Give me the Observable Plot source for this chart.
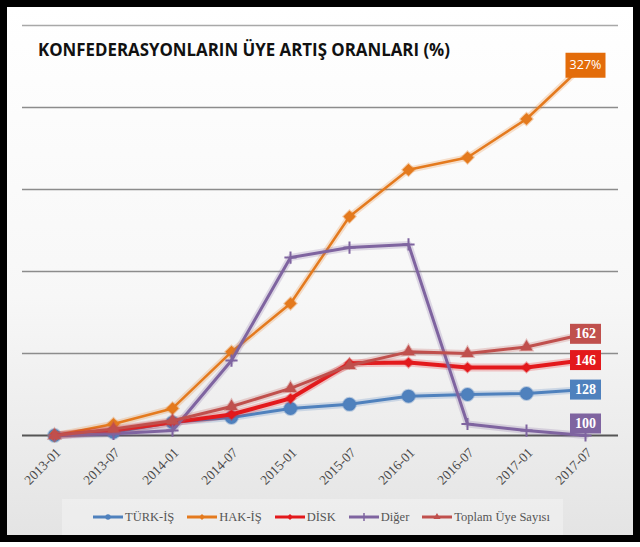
<!DOCTYPE html>
<html><head><meta charset="utf-8">
<script src="https://cdn.jsdelivr.net/npm/d3@7"></script>
<script src="https://cdn.jsdelivr.net/npm/@observablehq/plot@0.6"></script>
<style>
html,body{margin:0;padding:0;background:#fff;}
#wrap{position:relative;width:640px;height:547px;overflow:hidden;}
#frame{position:absolute;left:0;top:0;width:640px;height:542px;box-sizing:border-box;border:7px solid #000;background:linear-gradient(to bottom,#ffffff 0%,#f7f7f7 55%,#e4e4e4 100%);}
#chart{position:absolute;left:0;top:0;}
#chart svg{background:transparent;}
#title{position:absolute;left:38px;top:40px;font:bold 17px "Open Sans",sans-serif;line-height:20px;color:#111;white-space:nowrap;transform-origin:0 0;}
#legendbox{position:absolute;left:62px;top:499px;width:501px;height:36px;background:rgba(255,255,255,0.3);}
#legend{position:absolute;left:93px;top:506px;height:22px;display:flex;align-items:center;gap:13px;font-family:"Liberation Serif",serif;font-size:12.5px;color:#555;white-space:nowrap;}
#legend .it{display:flex;align-items:center;gap:2px;}
</style></head>
<body>
<div id="wrap">
  <div id="frame"></div>
  <div id="legendbox"></div>
  <div id="chart"></div>
  <div id="title"></div>
  <div id="legend"></div>
</div>
<script>
// ---- data ----
const dates = ["2013-01","2013-07","2014-01","2014-07","2015-01","2015-07","2016-01","2016-07","2017-01","2017-07"];
const turkIs = [100,102,108,111,116.5,119,124,125,125.6,128];
const hakIs  = [100,107,116.5,151,180.5,233.5,262,269.5,293,327];
const disk   = [100,103,108,112.8,122.6,144,144.5,141.5,141.5,146];
const diger  = [100,101,103,145.7,208.5,214.6,216.5,107,103,100];
const toplam = [100,104,109,117.7,128.7,142.7,151,150,154,162];
const seriesNames = ["TÜRK-İŞ","HAK-İŞ","DİSK","Diğer","Toplam Üye Sayısı"];
const endLabels = ["128","327%","146","100","162"];
const gridValues = [100,150,200,250,300,350];
const titleText = "KONFEDERASYONLARIN ÜYE ARTIŞ ORANLARI (%)";

// ---- styles ----
const colors = ["#4f81bd","#e47a1e","#e3191c","#7f64a0","#c0504d"];
const labelColors = ["#4f81bd","#e36c0a","#e3191c","#7f64a0","#c0504d"];
const widths = [3,2.5,4,3,3];
const symbols = ["circle","diamond2","diamond2","plus","triangle"];
const radii = [6.5,5.5,4.5,4,4.5];

const allValues = [turkIs,hakIs,disk,diger,toplam];
const rows = [];
seriesNames.forEach((s,i)=>dates.forEach((d,j)=>rows.push({series:s, idx:i, date:d, value:allValues[i][j]})));
const lastRows = seriesNames.map((s,i)=>({series:s, idx:i, date:dates[dates.length-1], value:allValues[i][dates.length-1], label:endLabels[i]}));

const rectSym = (w,h)=>({draw(ctx){ctx.rect(-w/2,-h/2,w,h);}});

const marks = [];
marks.push(Plot.ruleY(gridValues.filter(v=>v>100&&v<350),{stroke:"#8c8c8c",strokeWidth:1.5}));
marks.push(Plot.ruleY([350],{stroke:"#a8a8a8",strokeWidth:1.5}));
marks.push(Plot.ruleY([100],{stroke:"#555",strokeWidth:1.8}));

seriesNames.forEach((s,i)=>{
  const data = rows.filter(r=>r.idx===i);
  marks.push(Plot.line(data,{x:"date",y:"value",stroke:colors[i],strokeWidth:widths[i]+4,strokeOpacity:0.22}));
  marks.push(Plot.line(data,{x:"date",y:"value",stroke:colors[i],strokeWidth:widths[i]}));
  if (symbols[i]==="plus") {
    marks.push(Plot.dot(data,{x:"date",y:"value",symbol:"plus",r:radii[i],stroke:colors[i],strokeWidth:2}));
  } else {
    marks.push(Plot.dot(data,{x:"date",y:"value",symbol:symbols[i],r:radii[i],fill:colors[i],stroke:colors[i],strokeOpacity:0.35,strokeWidth:2}));
  }
});

// end labels
const lblNormal = lastRows.filter(r=>r.idx===0||r.idx===2||r.idx===4);
const lblBottom = lastRows.filter(r=>r.idx===3);
const lblTop = lastRows.filter(r=>r.idx===1);
marks.push(Plot.dot(lblNormal,{x:"date",y:"value",symbol:rectSym(31,20),fill:d=>labelColors[d.idx]}));
marks.push(Plot.text(lblNormal,{x:"date",y:"value",text:"label",fill:"#fff",fontWeight:"bold",fontSize:14,fontFamily:"Liberation Serif"}));
marks.push(Plot.dot(lblBottom,{x:"date",y:"value",dy:-12,symbol:rectSym(31,20),fill:d=>labelColors[d.idx]}));
marks.push(Plot.text(lblBottom,{x:"date",y:"value",dy:-12,text:"label",fill:"#fff",fontWeight:"bold",fontSize:14,fontFamily:"Liberation Serif"}));
marks.push(Plot.dot(lblTop,{x:"date",y:"value",dy:2,symbol:rectSym(40,25),fill:d=>labelColors[d.idx]}));
marks.push(Plot.text(lblTop,{x:"date",y:"value",dy:2,text:"label",fill:"#fff",fontSize:12.5,fontFamily:"Open Sans"}));

// x tick labels
marks.push(Plot.text(dates,{x:d=>d,y:gridValues[0],text:d=>d,rotate:-45,textAnchor:"end",dx:4,dy:15,fontSize:13.5,fill:"#4a4a4a",fontFamily:"Liberation Serif"}));

const chart = Plot.plot({
  width:640, height:547,
  marginTop:25, marginBottom:112, marginLeft:22, marginRight:22,
  x:{type:"point", domain:dates, range:[50,589], padding:0, axis:null},
  y:{domain:[100,350], axis:null},
  style:{background:"transparent", overflow:"visible"},
  marks
});
document.getElementById("chart").appendChild(chart);

// title
const titleEl = document.getElementById("title");
titleEl.textContent = titleText;
const tw = titleEl.getBoundingClientRect().width;
titleEl.style.transform = `scaleX(${412/tw})`;

// legend
const leg = document.getElementById("legend");
seriesNames.forEach((s,i)=>{
  const it = document.createElement("div"); it.className="it";
  const sw = d3.create("svg").attr("width",30).attr("height",14);
  sw.append("line").attr("x1",0).attr("x2",30).attr("y1",7).attr("y2",7).attr("stroke",colors[i]).attr("stroke-width",3);
  const sym = {circle:d3.symbolCircle,diamond2:d3.symbolDiamond2,plus:d3.symbolPlus,triangle:d3.symbolTriangle}[symbols[i]];
  const p = sw.append("path").attr("transform","translate(15,7)").attr("d",d3.symbol(sym, 22)());
  if (symbols[i]==="plus") p.attr("fill","none").attr("stroke",colors[i]).attr("stroke-width",1.5);
  else p.attr("fill",colors[i]);
  it.appendChild(sw.node());
  const sp = document.createElement("span"); sp.textContent = s; it.appendChild(sp);
  leg.appendChild(it);
});
</script>
</body></html>
